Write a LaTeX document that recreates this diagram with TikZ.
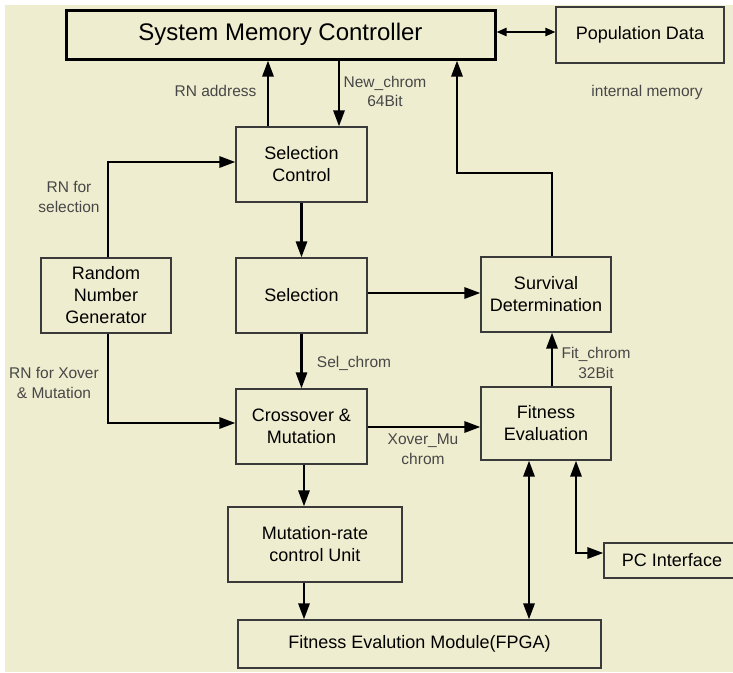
\documentclass[tikz,border=0pt]{standalone}
\usepackage{fontspec}
\setmainfont{Liberation Sans}
\usetikzlibrary{arrows.meta}
\definecolor{paper}{HTML}{EFEDCF}
\definecolor{edge}{HTML}{3A3A3A}
\definecolor{notegray}{HTML}{474747}

\begin{document}
\begin{tikzpicture}[x=1pt,y=-1pt,
  box/.style={draw=edge, line width=1.1pt, fill=paper, rectangle, align=center,
    inner sep=0pt, font=\fontsize{18}{22}\selectfont},
  headbox/.style={box, draw=black, line width=3pt, font=\fontsize{24}{28}\selectfont},
  conn/.style={line width=2.8pt, -{Triangle[length=16pt,width=11pt]}},
  dconn/.style={line width=2.8pt, {Triangle[length=16pt,width=11pt]}-{Triangle[length=16pt,width=11pt]}},
  memlink/.style={line width=2.2pt, {Triangle[length=10pt,width=8pt]}-{Triangle[length=10pt,width=8pt]}},
  note/.style={text=notegray, align=center, inner sep=0pt, font=\fontsize{15.5}{19.5}\selectfont},
]
\useasboundingbox (0,0) rectangle (733,672);
\fill[white] (0,0) rectangle (733,672);
\fill[paper] (5,5) rectangle (733,672);

% blocks
\node[headbox, minimum width=429pt, minimum height=49pt] (smc) at (280.5,34.5) {System Memory Controller};
\node[box, minimum width=168pt, minimum height=56pt] (pd) at (640,35) {Population Data};
\node[box, minimum width=131pt, minimum height=75pt] (sc) at (301.5,164.5) {Selection\\Control};
\node[box, minimum width=131pt, minimum height=75pt] (sel) at (301.5,295.5) {Selection};
\node[box, minimum width=130pt, minimum height=75pt] (rng) at (106,295.5) {Random\\Number\\Generator};
\node[box, minimum width=131pt, minimum height=75pt] (cm) at (301.5,426.5) {Crossover \&\\Mutation};
\node[box, minimum width=130pt, minimum height=75pt] (sd) at (546,294.5) {Survival\\Determination};
\node[box, minimum width=130pt, minimum height=73pt] (fe) at (546,423.5) {Fitness\\Evaluation};
\node[box, minimum width=174pt, minimum height=75pt] (mrc) at (315,544.5) {Mutation-rate\\control Unit};
\node[box, minimum width=363pt, minimum height=48pt] (fem) at (419.5,644) {Fitness Evalution Module(FPGA)};
\node[box, minimum width=136pt, minimum height=35pt] (pc) at (672,560.5) {PC Interface};

% signal labels
\node[note] (l-rnaddr) at (215.5,91) {RN address};
\node[note] (l-new) at (385,91.5) {New\_chrom\\64Bit};
\node[note] (l-int) at (647,92) {internal memory};
\node[note] (l-rnsel) at (69,197) {RN for\\selection};
\node[note] (l-rnxo) at (54,383) {RN for Xover\\\& Mutation};
\node[note] (l-sel) at (354,363) {Sel\_chrom};
\node[note] (l-fit) at (596,363) {Fit\_chrom\\32Bit};
\node[note] (l-xm) at (423,449) {Xover\_Mu\\chrom};

% routing guides
\coordinate (rnx) at (268,0);
\coordinate (ncx) at (339,0);
\coordinate (fitx) at (552,0);
\coordinate (turn) at (457,173);
\coordinate (sely) at (0,293);
\coordinate (xmy) at (0,427);
\coordinate (rnsy) at (0,162);
\coordinate (rnxy) at (0,423);
\coordinate (rngx) at (108,0);
\coordinate (cmx) at (304,0);
\coordinate (fpx) at (529,0);
\coordinate (pcx) at (576,0);
\coordinate (pcy) at (0,553);
\coordinate (pdy) at (0,32);

% connectors
\draw[memlink] (smc.east |- pdy) -- (pd.west |- pdy);
\draw[conn] (rng.north -| rngx) |- (sc.west |- rnsy);
\draw[conn] (rng.south -| rngx) |- (cm.west |- rnxy);
\draw[conn] (sc.north -| rnx) -- (smc.south -| rnx);
\draw[conn] (smc.south -| ncx) -- (sc.north -| ncx);
\draw[conn] (sc.south) -- (sel.north);
\draw[conn] (sel.south) -- (cm.north);
\draw[conn] (sel.east |- sely) -- (sd.west |- sely);
\draw[conn] (sd.north -| fitx) |- (turn) -- (smc.south -| turn);
\draw[conn] (fe.north -| fitx) -- (sd.south -| fitx);
\draw[conn] (cm.east |- xmy) -- (fe.west |- xmy);
\draw[conn] (cm.south -| cmx) -- (mrc.north -| cmx);
\draw[conn] (mrc.south -| cmx) -- (fem.north -| cmx);
\draw[dconn] (fe.south -| fpx) -- (fem.north -| fpx);
\draw[dconn] (fe.south -| pcx) |- (pc.west |- pcy);
\end{tikzpicture}
\end{document}
